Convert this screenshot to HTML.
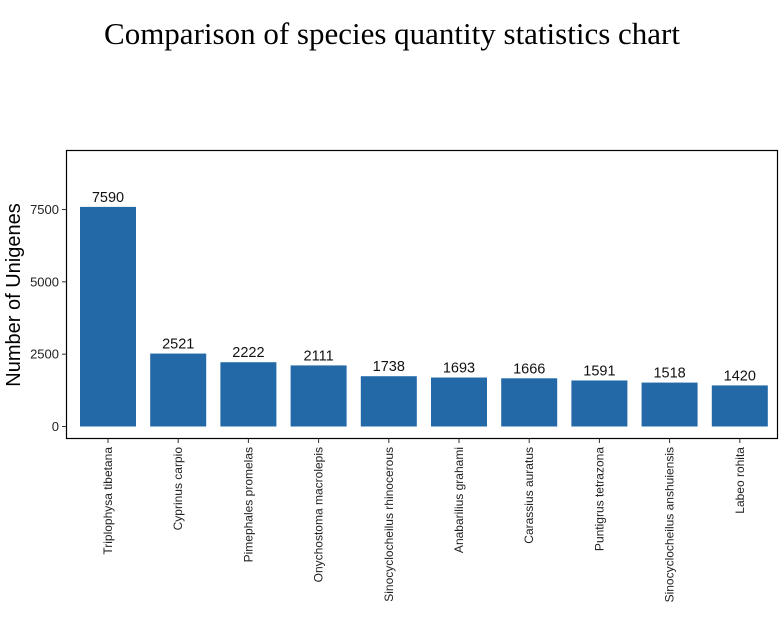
<!DOCTYPE html>
<html><head><meta charset="utf-8"><style>
body{margin:0;background:#fff;}
svg text{font-family:"Liberation Sans",sans-serif;}
</style></head><body>
<svg id="chart" width="784" height="614" xmlns="http://www.w3.org/2000/svg">
<text x="392" y="44" text-anchor="middle" style="font-family:'Liberation Serif',serif;font-size:31px">Comparison of species quantity statistics chart</text>
<rect x="66.5" y="150.5" width="711" height="288" fill="none" stroke="#000" stroke-width="1.2"/>
<text transform="translate(20,295) rotate(-90)" text-anchor="middle" font-size="20">Number of Unigenes</text>
<g id="g"></g>
</svg>
<script>
const categories=["Triplophysa tibetana","Cyprinus carpio","Pimephales promelas","Onychostoma macrolepis","Sinocyclocheilus rhinocerous","Anabarilius grahami","Carassius auratus","Puntigrus tetrazona","Sinocyclocheilus anshuiensis","Labeo rohita"];
const values=[7590,2521,2222,2111,1738,1693,1666,1591,1518,1420];
const yTicks=[0,2500,5000,7500];
const NS="http://www.w3.org/2000/svg";
const g=document.getElementById('g');
const y=v=>426.5-v*(217/7500);
const x=i=>108+i*70.2;
function mk(t,a){const e=document.createElementNS(NS,t);for(const k in a)e.setAttribute(k,a[k]);g.appendChild(e);return e;}
yTicks.forEach(t=>{
 const l=mk('line',{x1:62,x2:66,y1:y(t),y2:y(t),stroke:'#333'});
 
 
 const tx=mk('text',{x:59,y:y(t)+4.5,'text-anchor':'end','font-size':13,fill:'#222'});
 tx.textContent=t;
 
 
});
categories.forEach((c,i)=>{
 const b=mk('rect',{x:x(i)-28,y:y(values[i]),width:56,height:y(0)-y(values[i]),fill:'#2369a8'});
 
 
 const v=mk('text',{x:x(i),y:y(values[i])-5,'text-anchor':'middle','font-size':14.5,fill:'#111'});
 v.textContent=values[i];
 
 
 const tk=mk('line',{x1:x(i),x2:x(i),y1:439,y2:443,stroke:'#333'});
 
 
 const l=mk('text',{transform:`translate(${x(i)+4},447) rotate(-90)`,'text-anchor':'end','font-size':12,fill:'#222'});
 l.textContent=c;
 
 
});
</script>
</body></html>
